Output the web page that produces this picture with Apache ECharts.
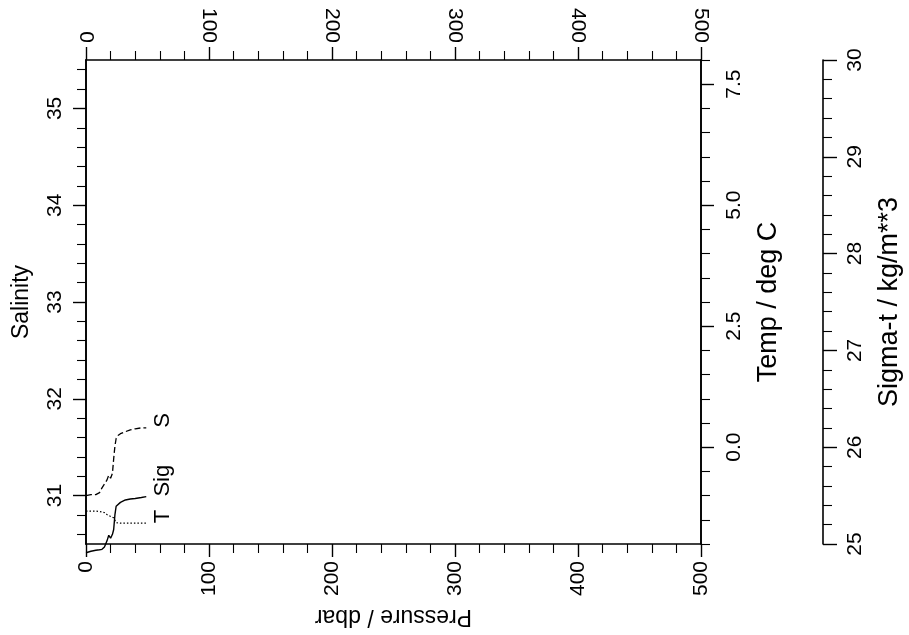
<!DOCTYPE html>
<html>
<head>
<meta charset="utf-8">
<script src="https://cdn.jsdelivr.net/npm/echarts@6/dist/echarts.min.js"></script>
<style>
html,body{margin:0;padding:0;background:#fff;}
#chart{width:909px;height:635px;}
</style>
</head>
<body>
<div id="chart"></div>
<script>
// ---- data ----
const pressure    = [0, 4, 8, 11, 13, 15, 17, 18.5, 20, 21.5, 22.5, 23.5, 24.5, 26, 28, 32, 36, 40, 45, 49];
const salinity    = [31.00, 31.01, 31.01, 31.03, 31.08, 31.12, 31.16, 31.21, 31.18, 31.23, 31.38, 31.51, 31.59, 31.62, 31.64, 31.66, 31.68, 31.69, 31.70, 31.70];
const temperature = [-1.32, -1.32, -1.32, -1.33, -1.34, -1.35, -1.39, -1.41, -1.43, -1.44, -1.46, -1.51, -1.56, -1.57, -1.57, -1.57, -1.57, -1.57, -1.57, -1.57];
const sigmaT      = [24.91, 24.925, 24.935, 24.94, 24.945, 24.97, 25.03, 25.09, 25.06, 25.10, 25.15, 25.30, 25.39, 25.41, 25.43, 25.455, 25.465, 25.47, 25.48, 25.49];
const seriesNames = ['S', 'T', 'Sig'];

const pressureTicks      = [0, 100, 200, 300, 400, 500];
const salinityMajorTicks = [31, 32, 33, 34, 35];
const salinityMinorTicks = [30.6, 30.8, 31.2, 31.4, 31.6, 31.8, 32.2, 32.4, 32.6, 32.8, 33.2, 33.4, 33.6, 33.8, 34.2, 34.4, 34.6, 34.8, 35.2, 35.4];
const tempMajorTicks     = [0, 2.5, 5, 7.5];
const tempMinorTicks     = [-2, -1.5, -1, -0.5, 0.5, 1, 1.5, 2, 3, 3.5, 4, 4.5, 5.5, 6, 6.5, 7, 8];
const sigmaTicks         = [25, 26, 27, 28, 29, 30];

// ---- styling ----
const FONT = "'Liberation Sans', Arial, Helvetica, sans-serif";
const INK = '#000';
const LBL = 21;
const TITLE = 23;
const TITLE_R = 27;
const lineStyleAxis = { color: INK, width: 1.6 };

function pairs(ys, name) {
  return pressure.map((p, i) => {
    const item = { value: [p, ys[i]] };
    if (i === pressure.length - 1) {
      item.label = {
        show: true, formatter: name, position: 'right', distance: 17,
        rotate: 90, align: 'left', verticalAlign: 'middle',
        color: INK, fontSize: 22, fontFamily: FONT
      };
    }
    return item;
  });
}

const xCommon = {
  type: 'value', min: pressureTicks[0], max: pressureTicks[pressureTicks.length - 1], interval: 100,
  axisLine: { show: true, onZero: false, lineStyle: lineStyleAxis },
  axisTick: { show: true, length: 13, lineStyle: { color: INK, width: 1.4 } },
  minorTick: { show: true, splitNumber: 5, length: 9, lineStyle: { color: INK, width: 1.1 } },
  splitLine: { show: false }, minorSplitLine: { show: false },
  axisLabel: { rotate: 90, fontSize: LBL, fontFamily: FONT, color: INK, margin: 17 }
};

const option = {
  animation: false,
  backgroundColor: '#fff',
  textStyle: { fontFamily: FONT },
  grid: { left: 86, right: 208, top: 60, bottom: 91, containLabel: false, outerBoundsMode: 'none' },
  xAxis: [
    Object.assign({}, xCommon, {
      position: 'bottom',
      name: 'Pressure / dbar', nameLocation: 'middle', nameRotate: 180, nameGap: 61,
      nameTextStyle: { fontSize: TITLE, fontFamily: FONT, color: INK }
    }),
    Object.assign({}, xCommon, { position: 'top' })
  ],
  yAxis: [
    { // salinity major
      type: 'value', position: 'left', min: 30.5, max: 35.5,
      axisLine: { show: true, onZero: false, lineStyle: lineStyleAxis },
      axisTick: { show: true, length: 13, customValues: salinityMajorTicks, lineStyle: { color: INK, width: 1.4 } },
      axisLabel: { customValues: salinityMajorTicks, rotate: 90, fontSize: LBL, fontFamily: FONT, color: INK, margin: 20 },
      splitLine: { show: false },
      name: 'Salinity', nameLocation: 'middle', nameRotate: 90, nameGap: 53,
      nameTextStyle: { fontSize: TITLE, fontFamily: FONT, color: INK }
    },
    { // salinity minor
      type: 'value', position: 'left', min: 30.5, max: 35.5,
      axisLine: { show: true, onZero: false, lineStyle: lineStyleAxis },
      axisTick: { show: true, length: 9, customValues: salinityMinorTicks, lineStyle: { color: INK, width: 1.1 } },
      axisLabel: { show: false }, splitLine: { show: false }
    },
    { // temperature major
      type: 'value', position: 'right', min: -2, max: 8,
      axisLine: { show: true, onZero: false, lineStyle: lineStyleAxis },
      axisTick: { show: true, length: 13, customValues: tempMajorTicks, lineStyle: { color: INK, width: 1.4 } },
      axisLabel: { customValues: tempMajorTicks, rotate: 90, fontSize: LBL, fontFamily: FONT, color: INK, margin: 23,
                   formatter: v => Number(v).toFixed(1) },
      splitLine: { show: false },
      name: 'Temp / deg C', nameLocation: 'middle', nameRotate: 90, nameGap: 54,
      nameTextStyle: { fontSize: TITLE_R, fontFamily: FONT, color: INK }
    },
    { // temperature minor
      type: 'value', position: 'right', min: -2, max: 8,
      axisLine: { show: true, onZero: false, lineStyle: lineStyleAxis },
      axisTick: { show: true, length: 9, customValues: tempMinorTicks, lineStyle: { color: INK, width: 1.1 } },
      axisLabel: { show: false }, splitLine: { show: false }
    },
    { // sigma-t
      type: 'value', position: 'right', offset: 122,
      min: sigmaTicks[0], max: sigmaTicks[sigmaTicks.length - 1], interval: 1,
      axisLine: { show: true, onZero: false, lineStyle: lineStyleAxis },
      axisTick: { show: true, length: 14, lineStyle: { color: INK, width: 1.4 } },
      minorTick: { show: true, splitNumber: 5, length: 9, lineStyle: { color: INK, width: 1.1 } },
      axisLabel: { rotate: 90, fontSize: LBL, fontFamily: FONT, color: INK, margin: 22 },
      splitLine: { show: false }, minorSplitLine: { show: false },
      name: 'Sigma-t / kg/m**3', nameLocation: 'middle', nameRotate: 90, nameGap: 53,
      nameTextStyle: { fontSize: TITLE_R, fontFamily: FONT, color: INK }
    }
  ],
  series: [
    {
      name: seriesNames[0], type: 'line', xAxisIndex: 0, yAxisIndex: 0,
      data: pairs(salinity, seriesNames[0]),
      showSymbol: true, symbol: 'circle', symbolSize: 0.1, itemStyle: { color: 'rgba(0,0,0,0)' },
      lineStyle: { color: INK, width: 1.3, type: [6, 3] }, clip: false, z: 3
    },
    {
      name: seriesNames[1], type: 'line', xAxisIndex: 0, yAxisIndex: 2,
      data: pairs(temperature, seriesNames[1]),
      showSymbol: true, symbol: 'circle', symbolSize: 0.1, itemStyle: { color: 'rgba(0,0,0,0)' },
      lineStyle: { color: INK, width: 1.2, type: [1.5, 2] }, clip: false, z: 3
    },
    {
      name: seriesNames[2], type: 'line', xAxisIndex: 0, yAxisIndex: 4,
      data: pairs(sigmaT, seriesNames[2]),
      showSymbol: true, symbol: 'circle', symbolSize: 0.1, itemStyle: { color: 'rgba(0,0,0,0)' },
      lineStyle: { color: INK, width: 1.4, type: 'solid' }, clip: false, z: 3
    }
  ]
};

const chart = echarts.init(document.getElementById('chart'), null, { renderer: 'canvas' });
chart.setOption(option);
</script>
</body>
</html>
